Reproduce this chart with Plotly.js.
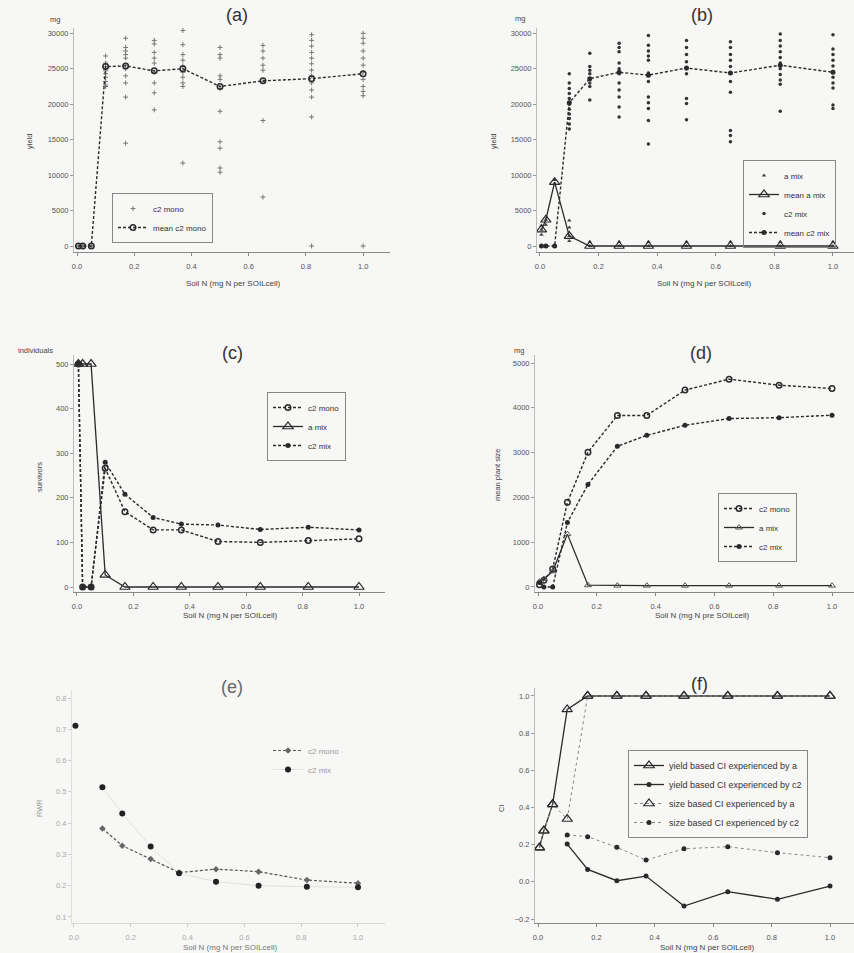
<!DOCTYPE html>
<html>
<head>
<meta charset="utf-8">
<script src="https://cdn.plot.ly/plotly-3.0.1.min.js"></script>
<style>html,body{margin:0;padding:0;background:#f7f7f5;}#chart{width:854px;height:953px;}</style>
</head>
<body>
<div id="chart"></div>
<script>
// ---------- DATA ----------
const soilN = [0.005, 0.02, 0.05, 0.1, 0.17, 0.27, 0.37, 0.5, 0.65, 0.82, 1.0];
const xTickVals = [0, 0.2, 0.4, 0.6, 0.8, 1.0];

// (a) yield, c2 monoculture
const yieldC2MonoMean = [0, 0, 0, 25300, 25400, 24700, 25000, 22500, 23300, 23600, 24300];
const yieldC2MonoReps = [
  [0, 0], [0, 0], [0, 0],
  [26800, 25800, 25300, 25000, 24700, 24300, 23800, 23200, 22700, 22500],
  [29300, 28000, 27500, 27000, 26500, 25500, 25000, 24000, 23000, 21000, 14500],
  [29000, 28500, 27300, 26500, 25800, 24500, 23000, 21600, 19200],
  [30400, 28400, 27000, 26200, 25400, 24500, 23800, 23000, 22500, 11700],
  [31200, 28000, 27000, 26500, 24000, 23500, 22200, 19000, 14700, 13800, 11000, 10400],
  [28300, 27500, 26500, 25500, 24800, 23200, 17700, 6900],
  [29800, 29000, 28200, 27300, 26500, 25700, 24800, 24000, 23000, 22000, 21000, 18200, 0],
  [30000, 29300, 28600, 27500, 26500, 25500, 24500, 23500, 22500, 21800, 21200, 0]
];

// (b) yield, mixture
const yieldAMixMean = [2300, 3700, 9000, 1400, 0, 0, 0, 0, 0, 0, 0];
const yieldC2MixMean = [0, 0, 0, 20200, 23600, 24500, 24100, 25100, 24400, 25500, 24500];
const yieldAMixReps = [
  [2900, 2300, 1600], [3700, 3000], [9300, 8800], [3600, 2600, 1400, 700],
  [600, 0], [600, 0], [600, 0], [600, 0], [600, 0], [600, 0], [600, 0]
];
const yieldC2MixReps = [
  [0], [0], [0],
  [24300, 23000, 22200, 21500, 20800, 20000, 19300, 18600, 18000, 17200, 16500],
  [27200, 25300, 24800, 24300, 23600, 23000, 22500, 20600],
  [28600, 28000, 27400, 25800, 25000, 24300, 23000, 22000, 21000, 19600, 18200],
  [29700, 28300, 27500, 26800, 26200, 24400, 23200, 21000, 20200, 19400, 17700, 14400],
  [29000, 28000, 27000, 26000, 25000, 24300, 20800, 20100, 17800],
  [28800, 28000, 27000, 26200, 25300, 23200, 21700, 16300, 15600, 14700],
  [29900, 29000, 28200, 27400, 26600, 25800, 25000, 24200, 23400, 22800, 19000],
  [29800, 27800, 27000, 26200, 25400, 24600, 23800, 23000, 22300, 19900, 19400]
];

// (c) survivors
const survC2Mono = [500, 0, 0, 266, 169, 128, 128, 102, 100, 104, 108];
const survAMix   = [500, 500, 500, 27, 0, 0, 0, 0, 0, 0, 0];
const survC2Mix  = [500, 0, 0, 280, 208, 156, 141, 139, 129, 134, 128];

// (d) mean plant size
const sizeC2Mono = [50, 150, 400, 1890, 3010, 3830, 3830, 4395, 4640, 4505, 4430];
const sizeAMix   = [120, 180, 350, 1180, 40, 30, 30, 30, 30, 30, 30];
const sizeC2Mix  = [100, 0, 0, 1440, 2290, 3140, 3385, 3610, 3760, 3780, 3835];

// (e) RWR
const rwrC2Mono = [null, null, null, 0.383, 0.328, 0.285, 0.242, 0.253, 0.245, 0.218, 0.208];
const rwrC2Mix  = [0.711, null, null, 0.515, 0.431, 0.325, 0.240, 0.213, 0.200, 0.197, 0.195];

// (f) competition index
const ciYieldA  = [0.184, 0.275, 0.417, 0.928, 1.0, 1.0, 1.0, 1.0, 1.0, 1.0, 1.0];
const ciYieldC2 = [null, null, null, 0.203, 0.067, 0.006, 0.031, -0.130, -0.053, -0.094, -0.023];
const ciSizeA   = [0.184, 0.275, 0.417, 0.338, 1.0, 1.0, 1.0, 1.0, 1.0, 1.0, 1.0];
const ciSizeC2  = [null, null, null, 0.252, 0.243, 0.186, 0.117, 0.178, 0.189, 0.157, 0.130];

// ---------- BUILD ----------
const FONT = 'Liberation Sans, Arial, sans-serif';
const DARK = '#2a2a2a';

function flatten(reps) {
  const xs = [], ys = [];
  reps.forEach((arr, i) => arr.forEach(v => { xs.push(soilN[i]); ys.push(v); }));
  return {xs, ys};
}

function line(y, name, xa, ya, lg, opts) {
  return Object.assign({
    type: 'scatter', mode: 'lines+markers', x: soilN, y: y, name: name,
    xaxis: xa, yaxis: ya, legend: lg, connectgaps: false, cliponaxis: false
  }, opts);
}

const dashLine = {color: DARK, width: 1.4, dash: '3px,2px'};
const solidLine = {color: DARK, width: 1.3};
const triOpen = {symbol: 'triangle-up-open', size: 9, color: DARK, line: {width: 1.2, color: DARK}};
const dotFill = {symbol: 'circle', size: 5, color: DARK};
const circOpen = {symbol: 'circle-open', size: 5.5, color: DARK, line: {width: 1.5, color: DARK}};

const aR = flatten(yieldC2MonoReps);
const bA = flatten(yieldAMixReps);
const bC = flatten(yieldC2MixReps);

const traces = [
  // (a)
  {type: 'scatter', mode: 'markers', x: aR.xs, y: aR.ys, name: 'c2 mono', xaxis: 'x', yaxis: 'y', legend: 'legend',
   marker: {symbol: 'cross-thin-open', size: 3.5, color: '#777', line: {width: 1, color: '#777'}}},
  line(yieldC2MonoMean, 'mean c2 mono', 'x', 'y', 'legend', {line: dashLine, marker: circOpen}),
  // (b)
  {type: 'scatter', mode: 'markers', x: bA.xs, y: bA.ys, name: 'a mix', xaxis: 'x2', yaxis: 'y2', legend: 'legend2',
   marker: {symbol: 'triangle-up', size: 4, color: '#444'}},
  line(yieldAMixMean, 'mean a mix', 'x2', 'y2', 'legend2', {line: solidLine, marker: triOpen}),
  {type: 'scatter', mode: 'markers', x: bC.xs, y: bC.ys, name: 'c2 mix', xaxis: 'x2', yaxis: 'y2', legend: 'legend2',
   marker: {symbol: 'circle', size: 3.5, color: '#333'}},
  line(yieldC2MixMean, 'mean c2 mix', 'x2', 'y2', 'legend2', {line: dashLine, marker: dotFill}),
  // (c)
  line(survC2Mono, 'c2 mono', 'x3', 'y3', 'legend3', {line: dashLine, marker: circOpen}),
  line(survAMix, 'a mix', 'x3', 'y3', 'legend3', {line: solidLine, marker: triOpen}),
  line(survC2Mix, 'c2 mix', 'x3', 'y3', 'legend3', {line: dashLine, marker: dotFill}),
  // (d)
  line(sizeC2Mono, 'c2 mono', 'x4', 'y4', 'legend4', {line: dashLine, marker: circOpen}),
  line(sizeAMix, 'a mix', 'x4', 'y4', 'legend4', {line: solidLine, marker: {symbol: 'triangle-up-open', size: 6, color: '#555', line: {width: 1, color: '#555'}}}),
  line(sizeC2Mix, 'c2 mix', 'x4', 'y4', 'legend4', {line: dashLine, marker: dotFill}),
  // (e)
  line(rwrC2Mono, 'c2 mono', 'x5', 'y5', 'legend5', {line: {color: '#555', width: 1.2, dash: '3px,2px'}, marker: {symbol: 'diamond', size: 5, color: '#666'}}),
  line(rwrC2Mix, 'c2 mix', 'x5', 'y5', 'legend5', {line: {color: '#e2e2e2', width: 1, dash: 'solid'}, marker: {symbol: 'circle', size: 6, color: '#222'}}),
  // (f)
  line(ciYieldA, 'yield based CI experienced by a', 'x6', 'y6', 'legend6', {line: solidLine, marker: triOpen}),
  line(ciYieldC2, 'yield based CI experienced by c2', 'x6', 'y6', 'legend6', {line: solidLine, marker: dotFill}),
  line(ciSizeA, 'size based CI experienced by a', 'x6', 'y6', 'legend6', {line: {color: '#888', width: 1, dash: 'dot'}, marker: triOpen}),
  line(ciSizeC2, 'size based CI experienced by c2', 'x6', 'y6', 'legend6', {line: {color: '#888', width: 1, dash: 'dot'}, marker: dotFill})
];

const W = 854, H = 953;
const fx = p => p / W;
const fy = p => 1 - p / H;

function xax(px0, px1, r0, r1, anchor, faint) {
  return {
    domain: [fx(px0), fx(px1)], range: [r0, r1], anchor: anchor,
    tickvals: xTickVals, tickformat: '.1f', ticks: 'outside', ticklen: 3, tickcolor: faint ? '#ccc' : '#888',
    showline: true, linecolor: faint ? '#d8d8d8' : '#8a8a8a', linewidth: 1, showgrid: false, zeroline: false,
    tickfont: {family: FONT, size: 7.5, color: faint ? '#aaa' : '#555'}, ticklabelstandoff: 4
  };
}
function yax(py0, py1, r0, r1, anchor, dtick, fmt, faint) {
  return {
    domain: [fy(py1), fy(py0)], range: [r0, r1], anchor: anchor, dtick: dtick, tick0: 0, tickformat: fmt,
    ticks: 'outside', ticklen: 3, tickcolor: faint ? '#ccc' : '#999',
    showline: true, linecolor: faint ? '#e0e0e0' : '#bbb', linewidth: 1, showgrid: false, zeroline: false,
    tickfont: {family: FONT, size: 7.5, color: faint ? '#aaa' : '#555'}
  };
}

function legendAt(px, py, border, fsize) {
  return {
    x: fx(px), y: fy(py), xanchor: 'left', yanchor: 'top', xref: 'paper', yref: 'paper',
    bgcolor: 'rgba(0,0,0,0)', bordercolor: border ? '#888' : 'rgba(0,0,0,0)', borderwidth: 1,
    font: {family: FONT, size: fsize || 8, color: border ? '#333' : '#999'}, tracegroupgap: 0, itemwidth: 30
  };
}

function ann(text, px, py, size, opts) {
  return Object.assign({
    text: text, x: fx(px), y: fy(py), xref: 'paper', yref: 'paper', showarrow: false,
    xanchor: 'center', yanchor: 'middle', font: {family: FONT, size: size, color: '#444'}
  }, opts || {});
}

const annotations = [
  ann('(a)', 237, 15, 18, {font: {family: FONT, size: 18, color: '#333'}}),
  ann('(b)', 702, 15, 18, {font: {family: FONT, size: 18, color: '#333'}}),
  ann('(c)', 232, 353, 18, {font: {family: FONT, size: 18, color: '#333'}}),
  ann('(d)', 701, 353, 18, {font: {family: FONT, size: 18, color: '#333'}}),
  ann('(e)', 232, 687, 18, {font: {family: FONT, size: 18, color: '#666'}}),
  ann('(f)', 699, 684, 18, {font: {family: FONT, size: 18, color: '#333'}}),
  ann('mg', 55, 20, 7.5),
  ann('mg', 520, 19, 7.5),
  ann('individuals', 35, 350, 7.5),
  ann('mg', 519, 350, 7.5),
  ann('yield', 29, 142, 7.5, {textangle: -90}),
  ann('yield', 493, 142, 7.5, {textangle: -90}),
  ann('survivors', 39, 477, 7.5, {textangle: -90}),
  ann('mean plant size', 497, 475, 7.5, {textangle: -90}),
  ann('RWR', 39, 808, 7.5, {textangle: -90, font: {family: FONT, size: 7.5, color: '#999'}}),
  ann('CI', 501, 808, 7.5, {textangle: -90}),
  ann('Soil N (mg N per SOILcell)', 233, 283, 8),
  ann('Soil N (mg N per SOILcell)', 704, 283, 8),
  ann('Soil N (mg N per SOILcell)', 230, 615, 8),
  ann('Soil N (mg N pre SOILcell)', 702, 615, 8),
  ann('Soil N (mg N per SOILcell)', 230, 947, 8, {font: {family: FONT, size: 8, color: '#777'}}),
  ann('Soil N (mg N per SOILcell)', 707, 947, 8)
];

const layout = {
  width: W, height: H, margin: {l: 0, r: 0, t: 0, b: 0},
  paper_bgcolor: '#f7f7f5', plot_bgcolor: 'rgba(0,0,0,0)',
  font: {family: FONT, size: 8, color: '#444'},
  showlegend: true,
  xaxis:  xax(74, 390, -0.0105, 1.094, 'y'),
  yaxis:  yax(28, 252, -846, 30747, 'x', 5000, 'd'),
  xaxis2: xax(537, 854, -0.0102, 1.0717, 'y2'),
  yaxis2: yax(28, 252, -846, 30747, 'x2', 5000, 'd'),
  xaxis3: xax(74, 385, -0.0106, 1.0922, 'y3'),
  yaxis3: yax(355, 592, -11.2, 520.2, 'x3', 100, 'd'),
  xaxis4: xax(535, 854, -0.0102, 1.0748, 'y4'),
  yaxis4: yax(355, 592, -112, 5179, 'x4', 1000, 'd'),
  xaxis5: xax(72, 385, -0.007, 1.0951, 'y5', true),
  yaxis5: yax(690, 923, 0.0808, 0.8256, 'x5', 0.1, '.1f', true),
  xaxis6: xax(535, 854, -0.0103, 1.0822, 'y6'),
  yaxis6: yax(688, 923, -0.2215, 1.043, 'x6', 0.2, '.1f'),
  legend:  legendAt(112, 193, true),
  legend2: legendAt(743, 160, true),
  legend3: legendAt(267, 392, true),
  legend4: legendAt(718, 493, true),
  legend5: legendAt(267, 735, false),
  legend6: legendAt(628, 750, true, 9),
  annotations: annotations
};

Plotly.newPlot('chart', traces, layout, {staticPlot: true, displayModeBar: false});
</script>
</body>
</html>
